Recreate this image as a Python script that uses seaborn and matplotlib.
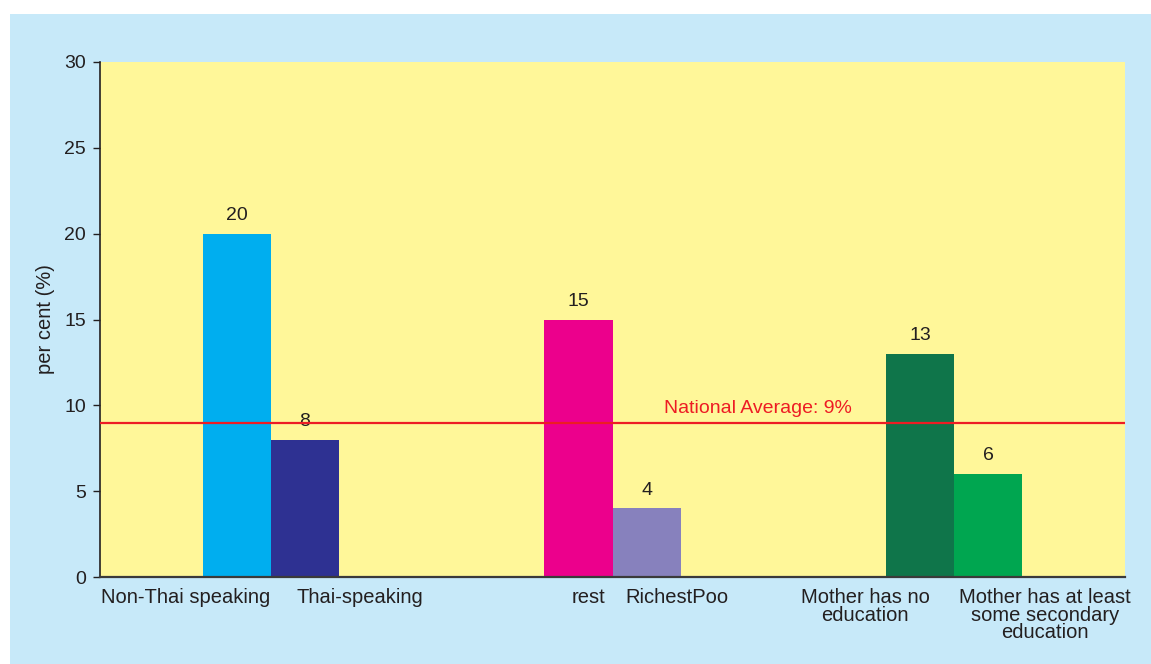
import pandas as pd
import numpy as np
import seaborn as sns
import matplotlib.pyplot as plt
from matplotlib.patches import Rectangle

# data
groups = ["language", "wealth", "mother"]
first_labels = ["Non-Thai speaking", "rest", "Mother has no\neducation"]
second_labels = ["Thai-speaking", "RichestPoo", "Mother has at least\nsome secondary\neducation"]
first_values = [20, 15, 13]
second_values = [8, 4, 6]
national_average = 9

first_colors = ["#00aeef", "#ec008c", "#0f754a"]
second_colors = ["#2e3192", "#8781bd", "#00a650"]

# where the category names sit, relative to each group centre
first_label_shift = [-0.25, -0.07, -0.26]
second_label_shift = [0.26, 0.19, 0.266]

df = pd.DataFrame({
    "group": groups * 2,
    "side": ["first"] * 3 + ["second"] * 3,
    "value": first_values + second_values,
})

sns.set_theme(style="white")
plt.rcParams["font.family"] = ["Liberation Sans", "DejaVu Sans"]
text_color = "#231f20"
fs = 14

fig = plt.figure(figsize=(11.51, 6.64), dpi=100, facecolor="white")
# light blue panel behind the chart
fig.patches.append(Rectangle((10 / 1151, 0), 1, 1 - 14 / 664,
                             transform=fig.transFigure, facecolor="#c7e9f9",
                             edgecolor="none", zorder=-10))
ax = fig.add_axes([100 / 1151, 87 / 664, 1025 / 1151, 515 / 664])
ax.set_facecolor("#fff799")

sns.barplot(data=df, x="group", y="value", hue="side", width=0.4,
            saturation=1, legend=False, ax=ax)

for bars, colors in zip(ax.containers, [first_colors, second_colors]):
    for bar, c in zip(bars, colors):
        bar.set_facecolor(c)
        bar.set_edgecolor("none")
    ax.bar_label(bars, padding=7, fontsize=fs, color=text_color)

ax.axhline(national_average, color="#ed1c24", lw=1.6, zorder=3)
ax.text(1.425, national_average + 0.3, f"National Average: {national_average}%",
        color="#ed1c24", ha="center", va="bottom", fontsize=fs)

ax.set_xlim(-0.5, 2.5)
ax.set_ylim(0, 30)
ax.set_yticks(np.arange(0, 31, 5))
ax.set_xticks([])
ax.set_xlabel("")
ax.set_ylabel("per cent (%)", fontsize=14.5, color=text_color, labelpad=7)
ax.tick_params(axis="y", left=True, length=5, width=1, pad=5,
               labelsize=fs, labelcolor=text_color, color=text_color)

# category labels under the bars
tr = ax.get_xaxis_transform()
for i in range(len(groups)):
    ax.text(i + first_label_shift[i], -0.021, first_labels[i], transform=tr,
            ha="center", va="top", multialignment="center", fontsize=14.5,
            color=text_color, linespacing=0.92)
    ax.text(i + second_label_shift[i], -0.021, second_labels[i], transform=tr,
            ha="center", va="top", multialignment="center", fontsize=14.5,
            color=text_color, linespacing=0.92)

for s in ["top", "right"]:
    ax.spines[s].set_visible(False)
ax.spines["left"].set_color(text_color)
ax.spines["left"].set_linewidth(1.2)
ax.spines["bottom"].set_color("#3a3a3a")
ax.spines["bottom"].set_linewidth(1.6)

fig.savefig("out.png", dpi=100, facecolor=fig.get_facecolor())
